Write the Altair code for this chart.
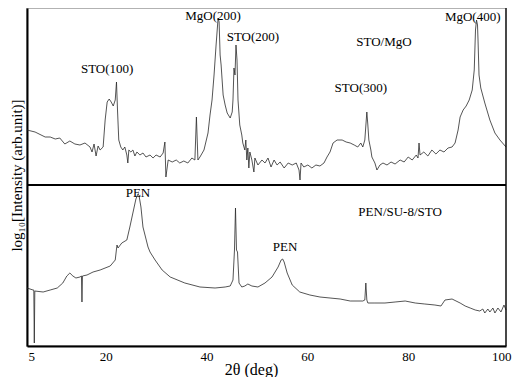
import altair as alt
import pandas as pd

# --- STO/MgO (upper trace), 2theta in deg and log-intensity (arb. units, panel-relative)
top_2theta = [5.0, 6.6, 8.6, 9.6, 10.6, 11.5, 12.5, 13.5, 14.5, 15.5, 16.5, 17.5, 17.9, 18.3, 18.7, 19.1, 19.5, 20.1,
              20.5, 20.9, 21.3, 21.7, 22.1, 22.5, 22.75, 22.95, 23.2, 23.6, 24.0, 24.4, 24.8, 25.0, 25.2, 25.6, 26.0,
              26.4, 26.8, 27.4, 28.0, 28.6, 29.4, 30.0, 30.6, 31.4, 32.0, 32.35, 32.55, 33.0, 33.8, 34.6, 35.3, 36.1,
              36.9, 37.7, 38.3, 38.6, 38.9, 39.3, 40.1, 40.9, 41.3, 41.7, 42.1, 42.5, 42.9, 43.1, 43.3, 43.5, 43.9,
              44.3, 44.7, 45.3, 45.7, 45.85, 46.05, 46.25, 46.45, 46.65, 46.85, 47.2, 47.6, 47.8, 48.2, 48.4, 48.6,
              48.8, 49.0, 49.2, 49.6, 50.0, 50.2, 50.8, 51.6, 52.2, 52.8, 53.4, 54.0, 54.6, 55.2, 56.0, 56.8, 57.6,
              58.4, 58.95, 59.15, 59.35, 59.9, 60.7, 61.5, 62.3, 63.1, 63.9, 64.5, 65.1, 65.7, 66.5, 67.5, 68.3, 69.1,
              69.9, 70.6, 71.2, 71.6, 72.0, 72.4, 72.6, 72.8, 73.2, 73.4, 74.0, 74.4, 75.0, 75.6, 76.4, 77.2, 78.0,
              79.0, 79.8, 80.6, 81.4, 82.2, 82.55, 82.75, 82.95, 83.7, 84.5, 85.3, 86.1, 86.9, 87.7, 88.5, 89.3, 89.9,
              90.5, 90.9, 91.5, 92.1, 92.7, 93.3, 93.7, 93.95, 94.15, 94.35, 94.45, 94.65, 95.0, 95.8, 96.8, 97.8,
              98.8, 100.0]
top_logI = [5.5, 5.3, 4.8, 4.8, 4.6, 4.7, 4.1, 4.4, 4.1, 4.0, 4.2, 3.8, 3.3, 4.1, 2.9, 3.9, 3.5, 3.8,
            6.5, 8.3, 8.6, 8.3, 7.9, 8.5, 10.3, 7.5, 4.5, 3.8, 3.5, 3.8, 3.0, 2.2, 3.5, 3.3, 3.5,
            2.9, 3.3, 3.0, 3.2, 2.8, 3.0, 2.7, 3.0, 2.8, 3.2, 4.3, 0.8, 2.5, 2.3, 2.5, 2.2, 2.4,
            2.2, 2.7, 2.5, 6.8, 2.5, 2.8, 3.5, 5.2, 7.0, 8.5, 11.0, 14.0, 16.7, 16.3, 13.0, 12.0, 9.0,
            8.0, 7.2, 6.7, 7.3, 8.5, 11.7, 11.0, 14.0, 12.5, 8.5, 6.0, 5.0, 4.2, 3.5, 4.5, 2.5,
            3.7, 1.7, 3.3, 2.5, 1.3, 2.7, 2.0, 2.5, 2.2, 2.7, 1.8, 2.5, 2.0, 2.3, 1.7, 2.2, 2.0,
            2.2, 1.5, 0.5, 2.2, 1.8, 2.0, 1.7, 2.0, 1.9, 2.2, 2.8, 3.3, 4.2, 4.5, 4.5, 4.3, 4.2,
            4.0, 3.8, 4.2, 3.8, 4.5, 7.3, 6.0, 4.5, 3.5, 2.8, 2.2, 1.5, 2.0, 2.2, 2.0, 2.3, 2.1,
            2.5, 2.3, 2.8, 2.5, 3.0, 2.7, 4.2, 3.0, 3.3, 2.9, 3.5, 3.1, 3.5, 3.3, 3.7, 3.8, 4.2,
            5.5, 6.8, 7.5, 7.9, 8.5, 9.5, 11.5, 15.5, 16.5, 16.0, 14.5, 11.0, 9.7, 8.2, 6.5, 5.2,
            4.5, 3.8]

# --- PEN/SU-8/STO (lower trace)
bot_2theta = [5.0, 6.2, 6.35, 6.45, 6.55, 8.2, 9.6, 11.0, 12.1, 12.9, 13.5, 14.1, 14.7, 15.5, 15.8, 15.9, 16.0,
              16.9, 18.1, 19.5, 21.5, 22.5, 22.75, 22.85, 23.05, 23.8, 24.8, 25.4, 26.0, 26.6, 27.0, 27.2, 27.6,
              28.0, 28.4, 29.0, 29.4, 30.4, 31.8, 33.4, 36.3, 39.3, 42.3, 44.3, 45.3, 45.85, 46.15, 46.35, 46.55,
              46.75, 47.05, 47.6, 48.2, 48.8, 49.6, 50.8, 52.2, 53.6, 54.8, 55.4, 55.7, 56.0, 56.6, 57.6, 59.1,
              61.1, 63.1, 65.1, 67.1, 69.1, 71.6, 72.0, 72.2, 72.4, 72.6, 74.0, 76.0, 78.0, 80.0, 82.0, 83.9,
              85.9, 87.1, 87.5, 87.9, 89.3, 90.9, 91.9, 92.9, 93.9, 94.8, 95.4, 95.8, 96.4, 96.8, 97.4, 97.8,
              98.4, 99.0, 99.6, 100.0]
bot_logI = [5.8, 5.6, 5.6, 0.3, 5.5, 5.4, 5.6, 5.8, 6.3, 7.0, 7.3, 7.0, 6.8, 6.9, 7.0, 4.4, 7.0,
            7.1, 7.4, 7.6, 8.0, 8.6, 9.7, 10.1, 9.8, 10.3, 10.6, 11.9, 13.3, 14.7, 15.2, 15.1, 13.9,
            11.9, 11.1, 9.9, 9.4, 8.6, 7.6, 6.9, 6.3, 5.9, 5.8, 5.9, 6.0, 6.6, 9.6, 13.8, 9.6,
            9.4, 6.3, 5.9, 6.0, 6.2, 6.0, 5.9, 6.3, 6.9, 7.9, 8.6, 8.7, 8.4, 7.3, 6.1, 5.4,
            5.1, 4.9, 4.8, 4.7, 4.5, 4.5, 4.6, 6.3, 4.6, 4.3, 4.3, 4.3, 4.4, 4.5, 4.3, 4.2,
            4.1, 4.0, 4.3, 4.6, 4.7, 4.3, 4.0, 3.8, 3.6, 3.5, 3.7, 3.3, 3.7, 3.4, 3.8, 3.3,
            3.8, 3.4, 4.1, 3.6]

panel_offset = 16.1  # lower panel height in plot units; upper trace sits above it

# --- annotations (2theta, plotted y)
ann_text = ["STO(100)", "MgO(200)", "STO(200)", "STO/MgO", "STO(300)", "MgO(400)", "PEN", "PEN", "PEN/SU-8/STO"]
ann_x = [20.9, 41.9, 49.8, 75.8, 71.2, 93.4, 27.0, 56.2, 79.0]
ann_y = [27.7, 33.05, 30.9, 30.4, 25.8, 32.9, 15.3, 9.9, 13.4]

x_ticks = [5, 20, 40, 60, 80, 100]

top_df = pd.DataFrame({"two_theta": top_2theta, "logI": top_logI, "series": "STO/MgO", "offset": panel_offset})
bot_df = pd.DataFrame({"two_theta": bot_2theta, "logI": bot_logI, "series": "PEN/SU-8/STO", "offset": 0.0})
df = pd.concat([top_df, bot_df], ignore_index=True)
ann_df = pd.DataFrame({"label": ann_text, "x": ann_x, "y": ann_y})

FONT = "Liberation Serif"
xscale = alt.Scale(domain=[5, 100], nice=False, zero=False)
yscale = alt.Scale(domain=[0, 33.8], nice=False, zero=False)

lines = alt.Chart(df).transform_calculate(
    yplot="datum.logI + datum.offset"
).mark_line(color="#2a2a2a", strokeWidth=0.8).encode(
    x=alt.X("two_theta:Q", scale=xscale,
            axis=alt.Axis(values=x_ticks, title="2θ (deg)", grid=False, ticks=False,
                          labelFont=FONT, labelFontSize=13, labelColor="black", labelPadding=4,
                          labelOffset=3, labelFlush=True, labelFlushOffset=2, labelOverlap=False,
                          domainColor="black", domainWidth=2,
                          titleFont=FONT, titleFontSize=16, titleFontWeight="normal", titleColor="black",
                          titleX=224, titleY=28, titleBaseline="alphabetic", titleAlign="center")),
    y=alt.Y("yplot:Q", scale=yscale,
            axis=alt.Axis(title="log₁₀[Intensity (arb.unit)]", labels=False, ticks=False, grid=False,
                          domainColor="black", domainWidth=2,
                          titleFont=FONT, titleFontSize=15, titleFontWeight="normal", titleColor="black",
                          titleAngle=270, titleX=-6, titleY=167, titleBaseline="alphabetic", titleAlign="center")),
    detail="series:N",
)

divider = alt.Chart(pd.DataFrame({"y": [panel_offset]})).mark_rule(color="black", strokeWidth=2).encode(
    y=alt.Y("y:Q", scale=yscale)
)
right_edge = alt.Chart(pd.DataFrame({"x": [100]})).mark_rule(color="black", strokeWidth=1.2).encode(
    x=alt.X("x:Q", scale=xscale)
)

labels = alt.Chart(ann_df).mark_text(font=FONT, fontSize=13, color="black", baseline="middle", align="center").encode(
    x=alt.X("x:Q", scale=xscale),
    y=alt.Y("y:Q", scale=yscale),
    text="label:N",
)

chart = alt.layer(lines, divider, right_edge, labels).properties(
    width=479, height=338,
    autosize=alt.AutoSizeParams(type="none"),
    padding={"left": 19, "top": 0, "right": 6, "bottom": 31},
).configure_view(stroke="#999999", strokeWidth=1.5)

chart.save("out.html", embed_options={"renderer": "svg", "actions": False})
